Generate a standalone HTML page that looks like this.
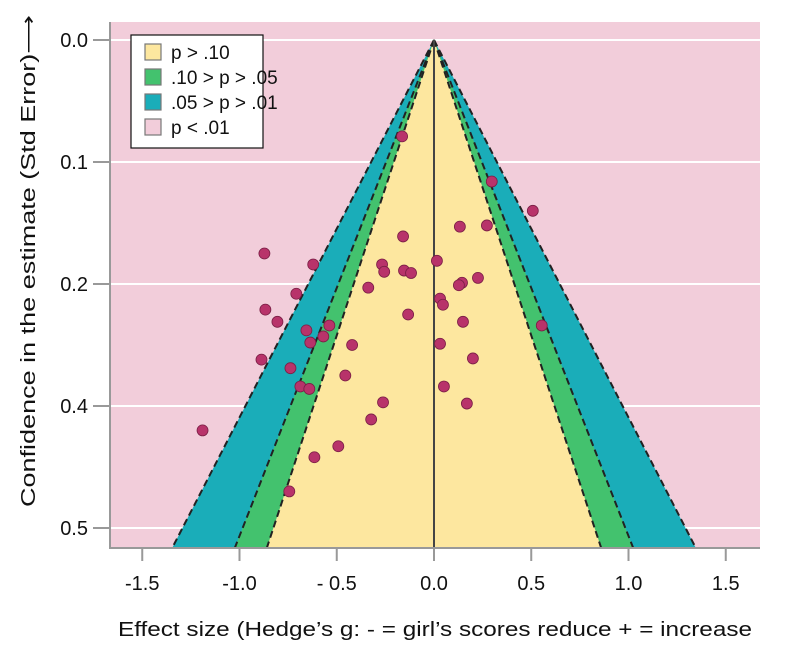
<!DOCTYPE html>
<html><head><meta charset="utf-8"><style>
body{margin:0;background:#fff;}
svg{display:block;font-family:"Liberation Sans",sans-serif;}
</style></head><body>
<svg id="chart" width="794" height="656" xmlns="http://www.w3.org/2000/svg"></svg>
<script>
const xTicks=[-1.5,-1.0,-0.5,0.0,0.5,1.0,1.5];
const xTickLabels=["-1.5","-1.0","- 0.5","0.0","0.5","1.0","1.5"];
const yTicks=[0,0.1,0.2,0.3,0.4];
const yTickLabels=["0.0","0.1","0.2","0.4","0.5"];
const zLevels=[2.576,1.96,1.645];
const zColors=["#1aadb9","#43c26e","#fde79f"];
const effectX=[-0.164,0.297,0.508,-0.872,-0.159,0.133,0.272,-0.621,-0.267,-0.154,-0.118,-0.256,0.015,-0.338,0.144,0.128,0.226,-0.708,0.031,0.046,-0.133,-0.867,-0.805,-0.538,-0.656,-0.569,0.554,0.149,-0.636,-0.421,0.031,-0.887,-0.738,0.2,-0.456,-0.687,-0.641,0.051,-0.262,0.169,-0.323,-1.19,-0.492,-0.615,-0.744];
const stdErr=[0.079,0.116,0.140,0.175,0.161,0.153,0.152,0.184,0.184,0.189,0.191,0.190,0.181,0.203,0.199,0.201,0.195,0.208,0.212,0.217,0.225,0.221,0.231,0.234,0.238,0.243,0.234,0.231,0.248,0.250,0.249,0.262,0.269,0.261,0.275,0.284,0.286,0.284,0.297,0.298,0.311,0.320,0.333,0.342,0.370];

const NS="http://www.w3.org/2000/svg";
const svg=document.getElementById('chart');
const X=v=>434+v*194.5;
const Y=v=>40+v*1220;
const seMax=(548-40)/1220;
const K=1.255;
function mk(t,a,p){const e=document.createElementNS(NS,t);for(const k in a)e.setAttribute(k,a[k]);(p||svg).appendChild(e);return e;}

const bg=mk('rect',{x:110,y:22,width:650,height:526,fill:"#f2cdda"});


yTicks.forEach((t,i)=>{
  const g=mk('line',{x1:110,x2:760,y1:Y(t),y2:Y(t),stroke:"#fff","stroke-width":2});
  
  
});
zLevels.forEach((z,i)=>{
  const w=z*K*seMax;
  const p=mk('polygon',{points:`${X(0)},${Y(0)} ${X(-w)},${Y(seMax)} ${X(w)},${Y(seMax)}`,fill:zColors[i]});
  
  
  [-1,1].forEach(s=>{
    const l=mk('line',{x1:X(0),y1:Y(0),x2:X(s*w),y2:Y(seMax),stroke:"#222","stroke-width":2,"stroke-dasharray":"7,4"});
    
    
  });
});
const c=mk('line',{x1:X(0),x2:X(0),y1:Y(0),y2:548,stroke:"#444","stroke-width":2});


effectX.forEach((v,i)=>{
  const d=mk('circle',{cx:X(v),cy:Y(stdErr[i]),r:5.5,fill:"#b8336a",stroke:"#7a1f45","stroke-width":0.8});
  
  
});
mk('line',{x1:110,x2:110,y1:22,y2:548,stroke:"#999","stroke-width":2});
mk('line',{x1:109,x2:760,y1:548,y2:548,stroke:"#999","stroke-width":2});
yTicks.forEach((t,i)=>{
  mk('line',{x1:93,x2:110,y1:Y(t),y2:Y(t),stroke:"#999","stroke-width":2});
  const tx=mk('text',{x:88,y:Y(t)+7,"text-anchor":"end","font-size":20,fill:"#111"});
  tx.textContent=yTickLabels[i];
  
  
});
xTicks.forEach((t,i)=>{
  mk('line',{x1:X(t),x2:X(t),y1:548,y2:561,stroke:"#999","stroke-width":2});
  const tx=mk('text',{x:X(t),y:590,"text-anchor":"middle","font-size":20,fill:"#111"});
  tx.textContent=xTickLabels[i];
  
  
});
const xt=mk('text',{x:118,y:636,"font-size":20,fill:"#111",textLength:634,lengthAdjust:"spacingAndGlyphs"});
xt.textContent="Effect size (Hedge’s g: - = girl’s scores reduce + = increase";


const yt=mk('text',{x:0,y:0,"font-size":20,fill:"#111",transform:"translate(35,507) rotate(-90)",textLength:492,lengthAdjust:"spacingAndGlyphs"});
yt.textContent="Confidence in the estimate (Std Error)⟶";


const lg=mk('g',{});


mk('rect',{x:131,y:35,width:132,height:113,fill:"#fff",stroke:"#111","stroke-width":1.2},lg);
const legLabels=["p > .10",".10 > p > .05",".05 > p > .01","p < .01"];
const legColors=["#fde79f","#43c26e","#1aadb9","#f2cdda"];
legLabels.forEach((s,i)=>{
  const y=44+i*25;
  const e=mk('g',{},lg);
  
  
  mk('rect',{x:145,y:y,width:16,height:16,fill:legColors[i],stroke:"#777","stroke-width":1.2},e);
  const t=mk('text',{x:171,y:y+15,"font-size":19,fill:"#111"},e);
  t.textContent=s;
});
</script>
</body></html>
